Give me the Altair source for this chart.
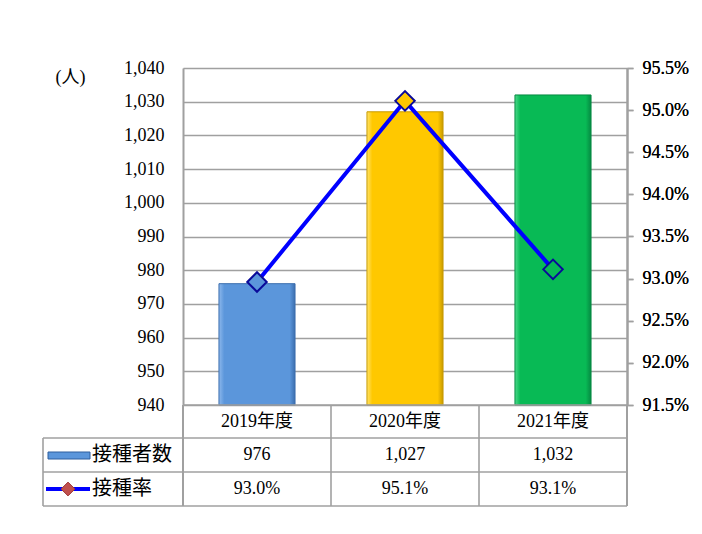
import altair as alt
import pandas as pd

categories = ["2019年度", "2020年度", "2021年度"]
counts = [976, 1027, 1032]
rates = [0.9296, 0.9511, 0.9311]
bar_colors = ["#5B96DB", "#FFC800", "#08BA55"]
bar_light = ["#8DB8EC", "#FFE36A", "#4CD98A"]
bar_dark = ["#3C6EAE", "#C89A00", "#058A42"]
left_ticks = [940, 950, 960, 970, 980, 990, 1000, 1010, 1020, 1030, 1040]
right_ticks = [0.915, 0.92, 0.925, 0.93, 0.935, 0.94, 0.945, 0.95, 0.955]
row_labels = ["接種者数", "接種率"]

df = pd.DataFrame({"cat": categories, "count": counts, "rate": rates,
                   "color": bar_colors})

W, H = 444, 337
GRID = "#A0A0A0"
SERIF = "Liberation Serif, Times New Roman, serif"
CJK = "Noto Sans CJK JP"
MIX = "Liberation Serif, Noto Sans CJK JP, serif"

xenc = alt.X("cat:N", sort=categories,
             scale=alt.Scale(paddingInner=0.486, paddingOuter=0.243),
             axis=None)

base = alt.Chart(df)

left_axis = alt.Axis(values=left_ticks, format=",d", grid=True,
                     gridColor=GRID, gridWidth=1.6, domainColor=GRID,
                     domainWidth=2, ticks=False, labelPadding=19,
                     labelFont=SERIF, labelFontSize=18, labelColor="#000",
                     title="(人)", titleAngle=0, titleX=-113, titleY=9,
                     titleAlign="center", titleBaseline="middle",
                     titleFont=MIX, titleFontSize=18,
                     titleFontWeight="normal", titleColor="#000")
yscale = alt.Scale(domain=[940, 1040], zero=False, nice=False)

bar_layers = []
for i, c in enumerate(categories):
    grad = alt.Gradient(
        gradient="linear", x1=0, y1=0, x2=1, y2=0,
        stops=[alt.GradientStop(offset=0, color=bar_light[i]),
               alt.GradientStop(offset=0.07, color=bar_colors[i]),
               alt.GradientStop(offset=0.93, color=bar_colors[i]),
               alt.GradientStop(offset=1, color=bar_dark[i])])
    bar_layers.append(
        base.transform_filter(alt.datum.cat == c).mark_bar(
            fill=grad, stroke=bar_dark[i], strokeWidth=1).encode(
            x=xenc, y=alt.Y("count:Q", scale=yscale, axis=left_axis),
            y2=alt.datum(940)))

bars = alt.layer(*bar_layers)

rate_y = alt.Y("rate:Q",
               scale=alt.Scale(domain=[0.915, 0.955], zero=False, nice=False),
               axis=alt.Axis(orient="right", values=right_ticks, format=".1%",
                             grid=False, domainColor=GRID, domainWidth=2,
                             tickColor=GRID, tickSize=6, tickWidth=1.5,
                             labelPadding=9, labelFont=SERIF, labelFontSize=18,
                             labelColor="#000", title=None))

line = base.mark_line(color="#0000FF", strokeWidth=4).encode(x=xenc, y=rate_y)
pts = base.mark_point(shape="diamond", filled=True, size=380, opacity=1,
                      stroke="#0A0A9A", strokeWidth=2).encode(
    x=xenc, y=rate_y, fill=alt.Fill("color:N", scale=None))

one = alt.Data(values=[{"a": 1}])

def rule(x1, x2, y1, y2, color=GRID, w=1.6):
    return alt.Chart(one).mark_rule(color=color, strokeWidth=w).encode(
        x=alt.value(x1), x2=alt.value(x2), y=alt.value(y1), y2=alt.value(y2))

step = W / 3
r1, r2, r3 = H + 33, H + 67, H + 101
table_rules = [
    rule(0, W, H, H),
    rule(-140, W, r1, r1),
    rule(-140, W, r2, r2),
    rule(-140, W, r3, r3),
    rule(-140, -140, r1, r3),
    rule(0, 0, H, r3, w=2),
    rule(step, step, H, r3),
    rule(2 * step, 2 * step, H, r3),
    rule(W, W, H, r3, w=2),
]

hdr = base.mark_text(font=MIX, fontSize=18, color="#000",
                     baseline="middle").encode(
    x=xenc, y=alt.value(H + 17), text="cat:N")
cnt = base.mark_text(font=SERIF, fontSize=18, color="#000",
                     baseline="middle").encode(
    x=xenc, y=alt.value(r1 + 17), text=alt.Text("count:Q", format=",d"))
rt = base.mark_text(font=SERIF, fontSize=18, color="#000",
                    baseline="middle").encode(
    x=xenc, y=alt.value(r2 + 17), text=alt.Text("rate:Q", format=".1%"))

lbl1 = alt.Chart(one).mark_text(font=CJK, fontSize=20, color="#000",
                                align="left", baseline="middle").encode(
    x=alt.value(-91), y=alt.value(r1 + 17), text=alt.value(row_labels[0]))
lbl2 = alt.Chart(one).mark_text(font=CJK, fontSize=20, color="#000",
                                align="left", baseline="middle").encode(
    x=alt.value(-91), y=alt.value(r2 + 17), text=alt.value(row_labels[1]))

sym_bar = alt.Chart(one).mark_rect(fill="#5B96DB", stroke="#2F5F9E",
                                   strokeWidth=1).encode(
    x=alt.value(-135), x2=alt.value(-93), y=alt.value(r1 + 14),
    y2=alt.value(r1 + 21))
sym_line = alt.Chart(one).mark_rule(color="#0000FF", strokeWidth=4).encode(
    x=alt.value(-137), x2=alt.value(-93), y=alt.value(r2 + 17))
sym_pt = alt.Chart(one).mark_point(shape="diamond", filled=True, size=190,
                                   fill="#C0504D", stroke="#A03A38",
                                   strokeWidth=1, opacity=1).encode(
    x=alt.value(-115), y=alt.value(r2 + 17))

chart = alt.layer(
    bars, *table_rules, line, pts, hdr, cnt, rt, lbl1, lbl2,
    sym_bar, sym_line, sym_pt
).resolve_scale(y="independent").properties(
    width=W, height=H,
    autosize=alt.AutoSizeParams(type="none"),
    padding={"left": 175, "top": 60, "right": 67, "bottom": 121},
).configure_view(stroke=None).configure_axis(
    labelFont=SERIF, titleFont=MIX
).configure(background="white")

chart.save("out.html", embed_options={"renderer": "svg", "actions": False})
